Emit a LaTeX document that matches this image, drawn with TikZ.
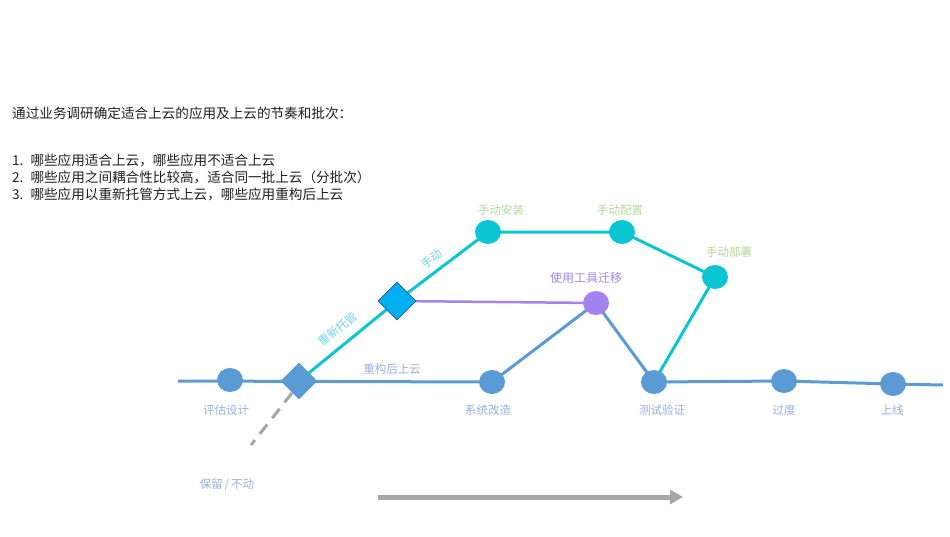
\documentclass[tikz,border=0pt]{standalone}
\usepackage{fontspec}
\setmainfont{Noto Sans CJK SC}
\usetikzlibrary{shapes.geometric,arrows.meta}
\definecolor{mblue}{HTML}{5B9BD5}
\definecolor{mcyan}{HTML}{0BC5D5}
\definecolor{mpurple}{HTML}{A383F0}
\definecolor{ldiam}{HTML}{00B0F0}
\definecolor{ldiamb}{HTML}{2F5597}
\definecolor{lblue}{HTML}{97AEDD}
\definecolor{lgreen}{HTML}{B4D79B}
\definecolor{lcyan}{HTML}{72D3E3}
\definecolor{mgray}{HTML}{A6A6A6}
\tikzset{
  stop/.style={ellipse,minimum width=26pt,minimum height=24pt,inner sep=0pt,fill=mblue},
  cstop/.style={stop,fill=mcyan},
  pstop/.style={stop,fill=mpurple},
  bigdiam/.style={diamond,minimum width=37pt,minimum height=37pt,inner sep=0pt,fill=mblue},
  smalldiam/.style={diamond,minimum width=38pt,minimum height=38pt,inner sep=0pt,fill=ldiam,draw=ldiamb,line width=0.8pt},
  lab/.style={font=\fontsize{11.5}{13}\selectfont,text=lblue,inner sep=0pt},
  glab/.style={font=\fontsize{11.5}{13}\selectfont,text=lgreen,inner sep=0pt},
  txt/.style={font=\fontsize{13.6}{15}\selectfont,anchor=west,inner sep=0pt,text=black!88},
  bline/.style={draw=mblue,line width=3pt},
  cline/.style={draw=mcyan,line width=3pt},
  pline/.style={draw=mpurple,line width=2.5pt},
}
\begin{document}
\begin{tikzpicture}[x=1pt,y=-1pt]
\useasboundingbox (0,0) rectangle (950,536);
% text
\node[txt] (t0) at (12,113) {通过业务调研确定适合上云的应用及上云的节奏和批次：};
\node[txt] (t1) at (12,160) {1.\hspace{7pt}哪些应用适合上云，哪些应用不适合上云};
\node[txt] (t2) at (12,177) {2.\hspace{7pt}哪些应用之间耦合性比较高，适合同一批上云（分批次）};
\node[txt] (t3) at (12,194) {3.\hspace{7pt}哪些应用以重新托管方式上云，哪些应用重构后上云};
% coordinates
\coordinate (start) at (178,381);
\coordinate (end) at (943,385);
\coordinate (keepend) at (251,445);
% nodes positions
\coordinate (pA) at (230,380);
\coordinate (pD1) at (299,381);
\coordinate (pS) at (492,382);
\coordinate (pT) at (654,382);
\coordinate (pG) at (784,381);
\coordinate (pU) at (893,384);
\coordinate (pD2) at (397,301);
\coordinate (pI) at (488,232);
\coordinate (pC) at (622,232);
\coordinate (pB) at (715,277);
\coordinate (pM) at (596,303);
% lines
\draw[bline] (start) -- (pS);
\draw[bline] (pS) -- (pM) -- (pT);
\draw[bline] (pT) -- (pG) -- (pU) -- (end);
\draw[cline] (pD1) -- (pD2) -- (pI) -- (pC) -- (pB) -- (pT);
\draw[pline] (pD2) -- (pM);
\draw[mgray,line width=3pt,dash pattern=on 12pt off 8pt] (pD1) ++(-7,12) -- (keepend);
% nodes
\node[stop] (A) at (pA) {};
\node[bigdiam] (D1) at (pD1) {};
\node[stop] (S) at (pS) {};
\node[stop] (T) at (pT) {};
\node[stop] (G) at (pG) {};
\node[stop] (U) at (pU) {};
\node[smalldiam] (D2) at (pD2) {};
\node[cstop] (I) at (pI) {};
\node[cstop] (C) at (pC) {};
\node[cstop] (B) at (pB) {};
\node[pstop] (M) at (pM) {};
% labels
\node[lab] (lA) at (226,410) {评估设计};
\node[lab] (lS) at (488,410) {系统改造};
\node[lab] (lT) at (662,410) {测试验证};
\node[lab] (lG) at (784,410) {过度};
\node[lab] (lU) at (892,410) {上线};
\node[lab] (lR) at (392,369) {重构后上云};
\node[lab] (lK) at (227,485) {保留\,/\,不动};
\node[glab] (lI) at (501,210) {手动安装};
\node[glab] (lC) at (620,210) {手动配置};
\node[glab] (lB) at (729,252) {手动部署};
\node[lab,text=mpurple,font=\fontsize{12}{13}\selectfont] (lM) at (586,278) {使用工具迁移};
\node[lab,text=lcyan,rotate=39] (lH) at (338,329) {重新托管};
\node[lab,text=lcyan,rotate=39] (lM2) at (432,259) {手动};
% arrow
\coordinate (a0) at (378,497);
\coordinate (a1) at (683,497);
\draw[mgray,line width=5pt,-{Triangle[length=13pt,width=14pt]}] (a0) -- (a1);
\end{tikzpicture}
\end{document}
